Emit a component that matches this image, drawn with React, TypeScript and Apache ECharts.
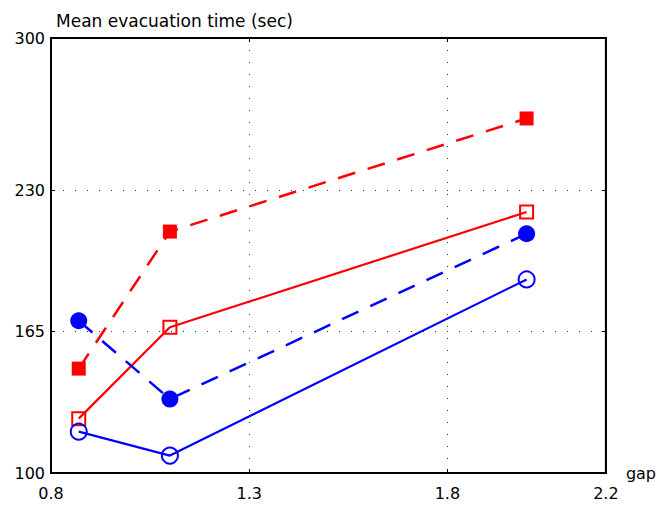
import React, { useEffect, useRef } from "react";
import * as echarts from "echarts";

const xValues = [0.87, 1.1, 2.0];
const redDashed = [148, 211, 263];
const redSolid = [125, 167, 220];
const blueDashed = [170, 134, 210];
const blueSolid = [119, 108, 189];
const xTicks = [0.8, 1.3, 1.8, 2.2];
const yTicks = [100, 165, 230, 300];

const FONT = "'DejaVu Sans', 'Liberation Sans', Arial, sans-serif";
const RED = "#ff0000";
const BLUE = "#0000ff";

function pairs(ys: number[]) {
  return xValues.map((x, i) => [x, ys[i]]);
}

export default function App() {
  const ref = useRef<HTMLDivElement>(null);
  useEffect(() => {
    if (!ref.current) return;
    const chart = echarts.init(ref.current, undefined, { renderer: "svg" });
    const baseX = {
      type: "value" as const,
      min: 0.8,
      max: 2.2,
    };
    const baseY = {
      type: "value" as const,
      min: 100,
      max: 300,
    };
    const line = (
      name: string,
      ys: number[],
      color: string,
      dashed: boolean,
      symbol: string,
      size: number,
      filled: boolean
    ) => ({
      name,
      type: "line",
      data: pairs(ys),
      symbol,
      symbolSize: size,
      showSymbol: true,
      lineStyle: { color, width: dashed ? 2.5 : 2.2, type: dashed ? [18, 13] : "solid" },
      itemStyle: filled
        ? { color, borderColor: color, borderWidth: 0 }
        : { color: "none", borderColor: color, borderWidth: 2 },
      z: 3,
    });
    chart.setOption({
      animation: false,
      backgroundColor: "#fff",
      textStyle: { fontFamily: FONT },
      title: {
        text: "Mean evacuation time (sec)",
        left: 51,
        top: 7,
        textStyle: { fontFamily: FONT, fontSize: 17, fontWeight: "normal", color: "#000" },
      },
      grid: {
        left: 51,
        right: 51,
        top: 38,
        bottom: 35,
        show: true,
        borderColor: "#000",
        borderWidth: 2,
        backgroundColor: "transparent",
      },
      xAxis: [
        {
          ...baseX,
          position: "bottom",
          name: "gap",
          nameLocation: "end",
          nameGap: 20,
          nameTextStyle: {
            fontFamily: FONT,
            fontSize: 16,
            color: "#000",
            align: "left",
            verticalAlign: "middle",
            padding: [0, 0, 11, 0],
          },
          axisLine: { show: true, lineStyle: { color: "#000", width: 2 } },
          axisTick: { show: true, inside: true, length: 4, customValues: xTicks, lineStyle: { color: "#000" } },
          axisLabel: {
            customValues: xTicks,
            color: "#000",
            fontSize: 16,
            fontFamily: FONT,
            margin: 12,
            formatter: (v: number) => v.toFixed(1),
          },
          splitLine: {
            show: true,
            showMinLine: false,
            showMaxLine: false,
            lineStyle: { color: "#333", width: 1, type: [1, 11] },
          },
        },
        {
          ...baseX,
          position: "top",
          axisLine: { show: true, lineStyle: { color: "#000", width: 2 } },
          axisTick: { show: true, inside: true, length: 4, customValues: xTicks, lineStyle: { color: "#000" } },
          axisLabel: { show: false },
          splitLine: { show: false },
        },
      ],
      yAxis: [
        {
          ...baseY,
          position: "left",
          axisLine: { show: true, lineStyle: { color: "#000", width: 2 } },
          axisTick: { show: true, inside: true, length: 4, customValues: yTicks, lineStyle: { color: "#000" } },
          axisLabel: {
            customValues: yTicks,
            color: "#000",
            fontSize: 16,
            fontFamily: FONT,
            margin: 6,
          },
          splitLine: {
            show: true,
            showMinLine: false,
            showMaxLine: false,
            lineStyle: { color: "#333", width: 1, type: [1, 11] },
          },
        },
        {
          ...baseY,
          position: "right",
          axisLine: { show: true, lineStyle: { color: "#000", width: 2 } },
          axisTick: { show: true, inside: true, length: 4, customValues: yTicks, lineStyle: { color: "#000" } },
          axisLabel: { show: false },
          splitLine: { show: false },
        },
      ],
      series: [
        line("redDashed", redDashed, RED, true, "rect", 14, true),
        line("redSolid", redSolid, RED, false, "rect", 13, false),
        line("blueDashed", blueDashed, BLUE, true, "circle", 17, true),
        line("blueSolid", blueSolid, BLUE, false, "circle", 16, false),
      ],
    });
    return () => chart.dispose();
  }, []);
  return <div ref={ref} style={{ width: 659, height: 508, position: "absolute", left: 0, top: 0 }} />;
}
